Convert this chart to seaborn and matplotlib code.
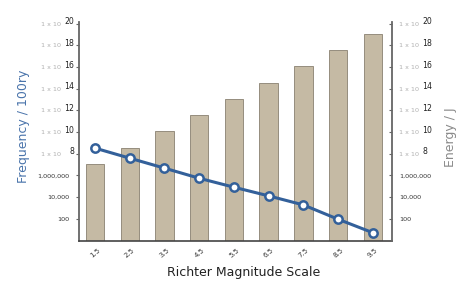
import matplotlib
matplotlib.use("Agg")
import matplotlib.pyplot as plt
from matplotlib.ticker import FixedLocator, NullLocator
import seaborn as sns
import pandas as pd

# ---- data ----
magnitudes = ["1.5", "2.5", "3.5", "4.5", "5.5", "6.5", "7.5", "8.5", "9.5"]
energy_j = [1.15e7, 3.5e8, 1.3e10, 3.9e11, 1.2e13, 3.5e14, 1.3e16, 3.9e17, 1.2e19]
freq_per_100yr = [3.3e8, 3.9e7, 4.7e6, 5.5e5, 8.2e4, 1.3e4, 1.9e3, 91, 5.2]
tick_exponents = [2, 4, 6, 8, 10, 12, 14, 16, 18, 20]
plain_labels = {2: "100", 4: "10,000", 6: "1,000,000"}

df = pd.DataFrame({"magnitude": magnitudes, "energy": energy_j, "freq": freq_per_100yr})

sns.set_style("white")
plt.rcParams["font.family"] = ["DejaVu Sans"]

BLUE = "#33609a"
TAN = "#c5baa4"

fig = plt.figure(figsize=(4.74, 2.91), dpi=100)
fig.patch.set_facecolor("white")
ax = fig.add_axes([79 / 474, 1 - 240.5 / 291, 313 / 474, 218.5 / 291])

sns.barplot(data=df, x="magnitude", y="energy", ax=ax, color=TAN,
            saturation=1, width=0.53, edgecolor="#958d7e", linewidth=0.7, zorder=2)
sns.pointplot(data=df, x="magnitude", y="freq", ax=ax, color=BLUE, errorbar=None,
              markers="o", markersize=6, markerfacecolor="white",
              markeredgecolor=BLUE, markeredgewidth=1.8, linewidth=2.2, zorder=3)

ax.set_yscale("log")
ax.set_ylim(1, 1.4e20)
ax.set_xlim(-0.46, 8.55)

ax2 = ax.twinx()
ax2.set_yscale("log")
ax2.set_ylim(ax.get_ylim())
ax2.set_position(ax.get_position())

ticks = [10.0 ** k for k in tick_exponents]
labels = [plain_labels.get(k, "1 x 10") for k in tick_exponents]

for a in (ax, ax2):
    a.yaxis.set_major_locator(FixedLocator(ticks))
    a.yaxis.set_minor_locator(NullLocator())
    a.set_facecolor("none")
    for s in a.spines.values():
        s.set_visible(False)

ax.set_yticks(ticks)
ax.set_yticklabels(labels)
ax2.set_yticks(ticks)
ax2.set_yticklabels(labels)

ax.tick_params(axis="y", which="major", direction="out", length=2.5, width=0.8,
               color="#666666", labelsize=4.6, left=True)
ax2.tick_params(axis="y", which="major", direction="in", length=2.5, width=0.8,
                color="#666666", labelsize=4.6, right=True, pad=5)

for k, t in zip(tick_exponents, ax.yaxis.get_major_ticks()):
    if k in plain_labels:
        t.set_pad(4.3)
        t.label1.set_color("#333333")
    else:
        t.set_pad(10.2)
        t.label1.set_color("#b0b0b0")
for k, t in zip(tick_exponents, ax2.yaxis.get_major_ticks()):
    t.label2.set_color("#333333" if k in plain_labels else "#b0b0b0")

# superscript exponents
for k in tick_exponents:
    if k in plain_labels:
        continue
    ax.annotate(str(k), xy=(0, 10.0 ** k), xycoords=ax.get_yaxis_transform(),
                xytext=(-3.6, 1.3), textcoords="offset points", ha="right",
                va="center", fontsize=5.6, color="#222222", annotation_clip=False)
    ax2.annotate(str(k), xy=(1, 10.0 ** k), xycoords=ax2.get_yaxis_transform(),
                 xytext=(21.8, 1.3), textcoords="offset points", ha="left",
                 va="center", fontsize=5.6, color="#222222", annotation_clip=False)

ax.spines["left"].set_visible(True)
ax.spines["left"].set_color("#666666")
ax.spines["left"].set_linewidth(1.3)
ax.spines["bottom"].set_visible(True)
ax.spines["bottom"].set_color("#444444")
ax.spines["bottom"].set_linewidth(1.2)
ax2.spines["right"].set_visible(True)
ax2.spines["right"].set_color("#666666")
ax2.spines["right"].set_linewidth(1.3)

ax.tick_params(axis="x", length=0, pad=4.7, labelsize=5, labelcolor="#333333")
for lab in ax.get_xticklabels():
    lab.set_rotation(40)
    lab.set_ha("center")

ax.set_xlabel("Richter Magnitude Scale", fontsize=9, color="#222222", va="top")
ax.xaxis.set_label_coords(0.527, -0.117)
ax.set_ylabel("Frequency / 100ry", fontsize=9, color="#4a74ab")
ax.yaxis.set_label_coords(-0.157, 0.524)
ax2.set_ylabel("Energy / J", fontsize=9, color="#8a8a8a", rotation=90)
ax2.yaxis.set_label_coords(1.166, 0.474)

fig.savefig("out.png", dpi=100, facecolor="white")
